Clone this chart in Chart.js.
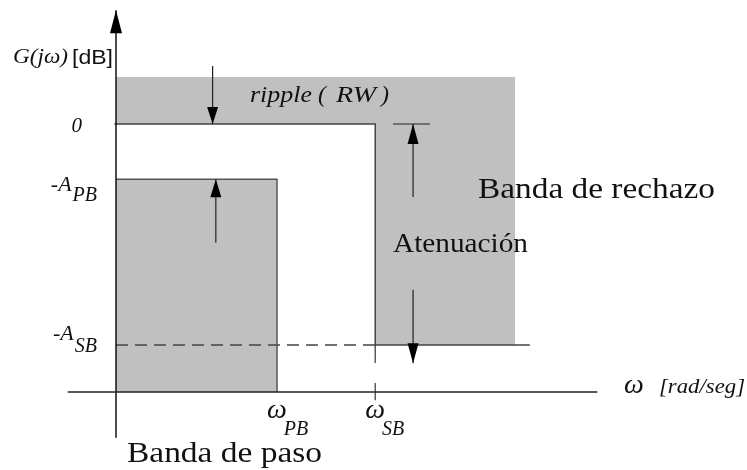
<!DOCTYPE html>
<html lang="es">
<head>
<meta charset="UTF-8">
<title>Especificación de filtro pasa bajos</title>
<script src="https://cdn.jsdelivr.net/npm/chart.js@4.4.1/dist/chart.umd.min.js"></script>
<style>
  body { margin: 0; background: #fff; }
  canvas { display: block; }
</style>
</head>
<body>
<canvas id="myChart" width="747" height="470"></canvas>
<script>
// frequencies (rad/seg, normalised to wPB = 1)
const omegaPB = 1.0;
const omegaSB = 1.61;
const omegaEnd = 2.48;        // end of the "banda de rechazo" shading
const omegaLineEnd = 2.57;    // end of the -A_SB line
const omegaAxis = [-0.3, 2.99];

// levels in dB
const ripple = 8.5;
const A_PB = 10;
const A_SB = 40;
const axisLevel = -48.5;
const gainAxis = [-56.8, 20.6];

// ticks
const yTickValues = [0, -A_PB, -A_SB];
const yTickLabels = [['0', ''], ['-A', 'PB'], ['-A', 'SB']];
const xTickValues = [omegaPB, omegaSB];
const xTickLabels = [['ω', 'PB'], ['ω', 'SB']];

// arrows [x, from, to]
const rippleArrow = [0.6, 10.5, 0];
const passArrow = [0.62, -21.5, -A_PB];
const attArrowUp = [1.845, -13.2, 0];
const attArrowDown = [1.845, -30, -43.3];
const attTick = [1.72, 1.95];

const GRAY = '#c0c0c0';
const LINE = '#444';

function seg(x0, y0, x1, y1) { return [{x: x0, y: y0}, {x: x1, y: y1}]; }

const datasets = [
  // shaded zones
  { data: seg(0, ripple, omegaEnd, ripple), fill: {value: 0}, backgroundColor: GRAY, borderWidth: 0, order: 5 },
  { data: seg(omegaSB, 0, omegaEnd, 0), fill: {value: -A_SB}, backgroundColor: GRAY, borderWidth: 0, order: 5 },
  { data: [{x: 0, y: -A_PB}, {x: omegaPB, y: -A_PB}, {x: omegaPB, y: axisLevel}],
    fill: {value: axisLevel}, backgroundColor: GRAY, borderColor: '#555', borderWidth: 1.5, order: 4 },
  // 0 dB line and stop band edge
  { data: [{x: -0.01, y: 0}, {x: omegaSB, y: 0}, {x: omegaSB, y: -A_SB}, {x: omegaLineEnd, y: -A_SB}],
    borderColor: LINE, borderWidth: 1.5, fill: false, order: 2 },
  { data: seg(0, -A_SB, omegaSB, -A_SB), borderColor: LINE, borderWidth: 1.3, borderDash: [12, 7], fill: false, order: 2 },
  { data: seg(omegaSB, -A_SB, omegaSB, -50), borderColor: LINE, borderWidth: 1.3, borderDash: [18, 20], fill: false, order: 2 },
  // axes
  { data: seg(omegaAxis[0], axisLevel, omegaAxis[1], axisLevel), borderColor: '#222', borderWidth: 1.5, fill: false, order: 1 },
  { data: seg(0, gainAxis[0], 0, gainAxis[1]), borderColor: '#111', borderWidth: 1.5, fill: false, order: 1, arrow: [23, 6] },
  // arrows
  { data: seg(rippleArrow[0], rippleArrow[1], rippleArrow[0], rippleArrow[2]), borderColor: '#222', borderWidth: 1.2, fill: false, order: 1, arrow: [17, 5.5] },
  { data: seg(passArrow[0], passArrow[1], passArrow[0], passArrow[2]), borderColor: '#222', borderWidth: 1.2, fill: false, order: 1, arrow: [18, 5.5] },
  { data: seg(attTick[0], 0, attTick[1], 0), borderColor: '#222', borderWidth: 1.2, fill: false, order: 1 },
  { data: seg(attArrowUp[0], attArrowUp[1], attArrowUp[0], attArrowUp[2]), borderColor: '#222', borderWidth: 1.2, fill: false, order: 1, arrow: [20, 5.5] },
  { data: seg(attArrowDown[0], attArrowDown[1], attArrowDown[0], attArrowDown[2]), borderColor: '#222', borderWidth: 1.2, fill: false, order: 1, arrow: [20, 5.5] }
];

const arrowPlugin = {
  id: 'arrowheads',
  afterDatasetsDraw(chart) {
    const ctx = chart.ctx;
    chart.data.datasets.forEach((ds, i) => {
      if (!ds.arrow) return;
      const pts = chart.getDatasetMeta(i).data;
      const a = pts[pts.length - 2], b = pts[pts.length - 1];
      const ang = Math.atan2(b.y - a.y, b.x - a.x);
      const [len, half] = ds.arrow;
      ctx.save();
      ctx.translate(b.x, b.y);
      ctx.rotate(ang);
      ctx.beginPath();
      ctx.moveTo(0, 0);
      ctx.lineTo(-len, -half);
      ctx.lineTo(-len, half);
      ctx.closePath();
      ctx.fillStyle = '#000';
      ctx.fill();
      ctx.restore();
    });
  }
};

const SERIF = '"Liberation Serif", "Times New Roman", serif';

const textPlugin = {
  id: 'labels',
  afterDraw(chart) {
    const ctx = chart.ctx;
    const xs = chart.scales.x, ys = chart.scales.y;
    const X = v => xs.getPixelForValue(v), Y = v => ys.getPixelForValue(v);
    // fitW: stretch text horizontally to that width (the original uses a wider serif)
    const put = (t, x, y, font, align, fitW) => {
      ctx.font = font;
      ctx.textAlign = align || 'left';
      if (!fitW) { ctx.fillText(t, x, y); return; }
      const w = ctx.measureText(t).width;
      ctx.save();
      ctx.translate(x, y);
      ctx.scale(fitW / w, 1);
      ctx.fillText(t, 0, 0);
      ctx.restore();
    };
    ctx.save();
    ctx.fillStyle = '#111';
    ctx.textBaseline = 'alphabetic';
    const x0 = X(0);

    // y axis title
    put('G(jω)', 13, 63, 'italic 21px ' + SERIF, 'left', 55);
    put('[dB]', 72, 64, '21px "Liberation Sans", Arial, sans-serif', 'left', 41);

    // y ticks
    const yShift = [[8, 0], [12, 10], [-5, 12]];
    yTickValues.forEach((v, i) => {
      const [main, sub] = yTickLabels[i];
      const py = Y(v);
      if (!sub) {
        put(main, x0 - 34, py + yShift[i][0], 'italic 21px ' + SERIF, 'right');
        return;
      }
      ctx.font = 'italic 20px ' + SERIF;
      const wSub = ctx.measureText(sub).width;
      put(sub, x0 - 19, py + yShift[i][0] + yShift[i][1], 'italic 20px ' + SERIF, 'right');
      put(main, x0 - 19 - wSub - 1, py + yShift[i][0], 'italic 22px ' + SERIF, 'right');
    });

    // x ticks
    xTickValues.forEach((v, i) => {
      const [main, sub] = xTickLabels[i];
      const px = X(v) - 10;
      ctx.font = 'italic 28px ' + SERIF;
      const w = ctx.measureText(main).width;
      put(main, px, 418, 'italic 28px ' + SERIF);
      put(sub, px + w - 3, 435, 'italic 20px ' + SERIF);
    });

    // x axis title
    put('ω', 624, 393, 'italic 28px ' + SERIF);
    put('[rad/seg]', 659, 393, 'italic 20px ' + SERIF, 'left', 86);

    // ripple text
    put('ripple', 250, 102, 'italic 24px ' + SERIF, 'left', 62);
    put('(', 318, 102, 'italic 24px ' + SERIF);
    put('RW', 336, 102, 'italic 24px ' + SERIF, 'left', 40);
    put(')', 381, 102, 'italic 24px ' + SERIF);

    // band names
    put('Banda de rechazo', 478, 198, '30px ' + SERIF, 'left', 237);
    put('Atenuación', 393, 252, '28px ' + SERIF, 'left', 135);
    put('Banda de paso', 127, 462, '30px ' + SERIF, 'left', 195);
    ctx.restore();
  }
};

const ctx = document.getElementById('myChart').getContext('2d');
const myChart = new Chart(ctx, {
  type: 'scatter',
  data: { datasets: datasets.map(d => Object.assign({ showLine: true, pointRadius: 0, tension: 0 }, d)) },
  plugins: [arrowPlugin, textPlugin],
  options: {
    responsive: false,
    animation: false,
    layout: { padding: 0 },
    plugins: { legend: { display: false }, tooltip: { enabled: false } },
    scales: {
      x: { type: 'linear', min: -0.7205, max: 3.919, display: false },
      y: { type: 'linear', min: -62.62, max: 22.44, display: false }
    }
  }
});
</script>
</body>
</html>
